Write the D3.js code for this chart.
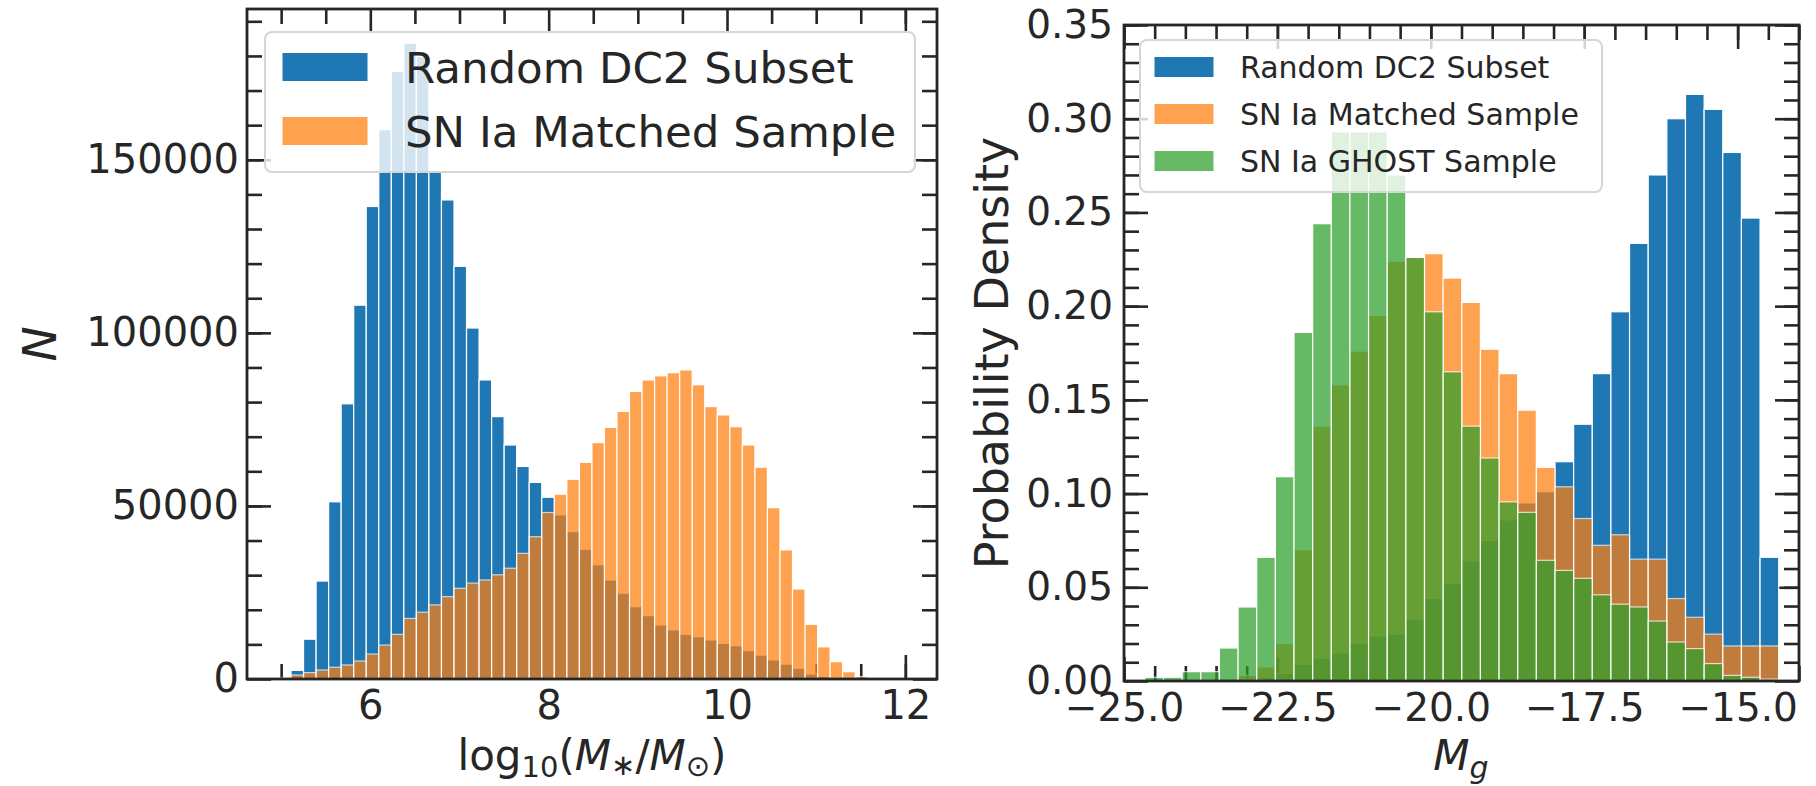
<!DOCTYPE html>
<html>
<head>
<meta charset="utf-8">
<script src="https://cdn.jsdelivr.net/npm/d3@7"></script>
<style>
  body { margin: 0; background: #fff; }
  text { font-family: "DejaVu Sans", sans-serif; fill: #262626; }
</style>
</head>
<body>
<svg id="fig" width="1816" height="786"></svg>
<script>
// ---- data: left panel, stellar mass histogram (counts per bin) ----
const massBinStart = 4.97;
const massBinWidth = 0.1406;
const massRandom = [
    0, 2500, 11500, 28300, 51200, 79500, 108000, 136500, 158700, 175500,
    183700, 179900, 146600, 138400, 119200, 101400, 86400, 75800, 67600, 61400,
    56800, 52500, 47400, 42600, 37500, 33000, 28600, 24800, 20900, 18300,
    15600, 14200, 12900, 12200, 11300, 10300, 9600, 8200, 6900, 5500,
    4300, 3100, 1450, 700, 300, 0, 0, 0, 0, 0
];
const massMatched = [
    300, 1150, 1850, 2600, 3400, 4050, 5200, 7200, 9800, 12900,
    17500, 19300, 21400, 23800, 26200, 27700, 28600, 30100, 32000, 36300,
    41100, 48100, 53400, 57700, 62600, 68300, 72700, 77300, 83100, 86400,
    87600, 88500, 89300, 85000, 78700, 76300, 72900, 67600, 61200, 49500,
    37300, 26000, 15800, 9300, 5000, 2100, 700, 450, 200, 0
];
const massTicks = [6, 8, 10, 12];
const massMinor = [5, 5.5, 6.5, 7, 7.5, 8.5, 9, 9.5, 10.5, 11, 11.5, 12];
const countTicks = [0, 50000, 100000, 150000];
const countMinor = d3.range(10000, 193000, 10000);

// ---- data: right panel, g-band absolute magnitude (density per bin) ----
const magBinStart = -24.66;
const magBinWidth = 0.3038;
const magRandom = [
    0, 0, 0, 0, 0, 0.001, 0.002, 0.004, 0.009, 0.012,
    0.015, 0.020, 0.024, 0.025, 0.033, 0.044, 0.052, 0.064, 0.075, 0.086,
    0.095, 0.101, 0.117, 0.137, 0.164, 0.197, 0.2335, 0.270, 0.300, 0.313,
    0.305, 0.282, 0.247, 0.066
];
const magMatched = [
    0, 0, 0, 0, 0.001, 0.003, 0.0075, 0.020, 0.070, 0.136,
    0.158, 0.176, 0.195, 0.224, 0.226, 0.228, 0.215, 0.202, 0.177, 0.164,
    0.1445, 0.114, 0.1036, 0.0867, 0.0724, 0.078, 0.065, 0.065, 0.044, 0.034,
    0.025, 0.0187, 0.0187, 0.0187
];
const magGhost = [
    0.002, 0.002, 0.005, 0.005, 0.0176, 0.0395, 0.066, 0.109, 0.186, 0.244,
    0.293, 0.293, 0.293, 0.270, 0.226, 0.197, 0.165, 0.136, 0.119, 0.0956,
    0.090, 0.0644, 0.059, 0.0548, 0.046, 0.041, 0.0395, 0.032, 0.0208, 0.0173,
    0.0093, 0.003, 0.002, 0.001
];
const magTicks = [-25, -22.5, -20, -17.5, -15];
const magMinor = d3.range(-25, -13.9, 0.5);
const densTicks = [0, 0.05, 0.10, 0.15, 0.20, 0.25, 0.30, 0.35];
const densMinor = d3.range(0.01, 0.351, 0.01);

const seriesNames = ['Random DC2 Subset', 'SN Ia Matched Sample', 'SN Ia GHOST Sample'];
const seriesColors = ['#1f77b4', '#ff7f0e', '#2ca02c'];
const seriesAlpha = [1, 0.72, 0.72];

const ink = '#262626';
const svg = d3.select('#fig');

function drawPanel(cfg) {
    const b = cfg.box;
    const x = d3.scaleLinear().domain(cfg.xDomain).range([b.left, b.right]);
    const y = d3.scaleLinear().domain(cfg.yDomain).range([b.bottom, b.top]);
    const g = svg.append('g');

    // Ticks (inward, on all four sides), drawn below the bars
    const tickStyle = sel => {
        sel.select('.domain').remove();
        sel.selectAll('line').attr('stroke', ink).attr('stroke-width', 2.6);
        sel.selectAll('text').style('font-size', cfg.tickFont + 'px').attr('fill', ink);
    };
    const major = 24, minor = 15;

    g.append('g').attr('transform', `translate(0,${b.bottom})`)
        .call(d3.axisBottom(x).tickValues(cfg.xMajor).tickSize(-major).tickPadding(cfg.xPad).tickFormat(cfg.xFormat))
        .call(tickStyle);
    g.append('g').attr('transform', `translate(0,${b.bottom})`)
        .call(d3.axisBottom(x).tickValues(cfg.xMinor).tickSize(-minor).tickFormat(''))
        .call(tickStyle);
    g.append('g').attr('transform', `translate(0,${b.top})`)
        .call(d3.axisTop(x).tickValues(cfg.xMajor).tickSize(-major).tickFormat(''))
        .call(tickStyle);
    g.append('g').attr('transform', `translate(0,${b.top})`)
        .call(d3.axisTop(x).tickValues(cfg.xMinor).tickSize(-minor).tickFormat(''))
        .call(tickStyle);
    g.append('g').attr('transform', `translate(${b.left},0)`)
        .call(d3.axisLeft(y).tickValues(cfg.yMajor).tickSize(-major).tickPadding(cfg.yPad).tickFormat(cfg.yFormat))
        .call(tickStyle);
    g.append('g').attr('transform', `translate(${b.left},0)`)
        .call(d3.axisLeft(y).tickValues(cfg.yMinor).tickSize(-minor).tickFormat(''))
        .call(tickStyle);
    g.append('g').attr('transform', `translate(${b.right},0)`)
        .call(d3.axisRight(y).tickValues(cfg.yMajor).tickSize(-major).tickFormat(''))
        .call(tickStyle);
    g.append('g').attr('transform', `translate(${b.right},0)`)
        .call(d3.axisRight(y).tickValues(cfg.yMinor).tickSize(-minor).tickFormat(''))
        .call(tickStyle);

    // Histogram bars
    cfg.series.forEach((values, s) => {
        g.append('g')
            .selectAll('rect')
            .data(values.map((v, i) => ({ v, i })).filter(d => d.v > 0))
            .enter()
            .append('rect')
            .attr('x', d => x(cfg.binStart + d.i * cfg.binWidth))
            .attr('width', d => x(cfg.binStart + (d.i + 1) * cfg.binWidth) - x(cfg.binStart + d.i * cfg.binWidth))
            .attr('y', d => y(d.v))
            .attr('height', d => y(0) - y(d.v))
            .attr('fill', seriesColors[s])
            .attr('stroke', '#ffffff')
            .attr('stroke-width', 1.2)
            .attr('opacity', seriesAlpha[s]);
    });

    // Spines
    g.append('rect')
        .attr('x', b.left).attr('y', b.top)
        .attr('width', b.right - b.left).attr('height', b.bottom - b.top)
        .attr('fill', 'none').attr('stroke', ink).attr('stroke-width', 2.8);

    // Legend
    const L = cfg.legend;
    g.append('rect')
        .attr('x', L.x).attr('y', L.y).attr('width', L.w).attr('height', L.h)
        .attr('rx', 7).attr('fill', '#ffffff').attr('fill-opacity', 0.8)
        .attr('stroke', '#d6d6d6').attr('stroke-width', 2);
    cfg.series.forEach((values, s) => {
        const cy = L.firstRow + s * L.rowGap;
        g.append('rect')
            .attr('x', L.handleX).attr('y', cy - L.handleH / 2)
            .attr('width', L.handleW).attr('height', L.handleH)
            .attr('fill', seriesColors[s]).attr('stroke', '#ffffff').attr('stroke-width', 1)
            .attr('opacity', seriesAlpha[s]);
        g.append('text')
            .attr('x', L.textX).attr('y', cy).attr('dy', '0.36em')
            .style('font-size', L.font + 'px')
            .text(seriesNames[s]);
    });

    return g;
}

// ---- left panel ----
const left = drawPanel({
    box: { left: 247, right: 937, top: 9, bottom: 679 },
    xDomain: [4.617, 12.355],
    yDomain: [0, 193560],
    xMajor: massTicks, xMinor: massMinor,
    yMajor: countTicks, yMinor: countMinor,
    xFormat: d3.format('d'), yFormat: d3.format('d'),
    xPad: 12, yPad: 8, tickFont: 40,
    binStart: massBinStart, binWidth: massBinWidth,
    series: [massRandom, massMatched],
    legend: { x: 265, y: 32, w: 650, h: 140, handleX: 282, handleW: 86, handleH: 29,
              textX: 405, firstRow: 67, rowGap: 64, font: 43.5 }
});

left.append('text')
    .attr('transform', 'translate(56,344) rotate(-90)')
    .attr('text-anchor', 'middle')
    .style('font-size', '47px').style('font-style', 'italic')
    .text('N');

const massLabel = left.append('text')
    .attr('x', 592).attr('y', 770)
    .attr('text-anchor', 'middle')
    .style('font-size', '42px');
massLabel.append('tspan').text('log');
massLabel.append('tspan').attr('dy', 7).style('font-size', '29px').text('10');
massLabel.append('tspan').attr('dy', -7).text('(');
massLabel.append('tspan').style('font-style', 'italic').text('M');
massLabel.append('tspan').attr('dy', 5).style('font-size', '29px').text('∗');
massLabel.append('tspan').attr('dy', -5).text('/');
massLabel.append('tspan').style('font-style', 'italic').text('M');
massLabel.append('tspan').attr('dy', 6).style('font-size', '29px').text('⊙');
massLabel.append('tspan').attr('dy', -6).text(')');

// ---- right panel ----
const right = drawPanel({
    box: { left: 1124, right: 1799, top: 25, bottom: 681 },
    xDomain: [-25, -14],
    yDomain: [0, 0.35],
    xMajor: magTicks, xMinor: magMinor,
    yMajor: densTicks, yMinor: densMinor,
    xFormat: d3.format('.1f'), yFormat: d3.format('.2f'),
    xPad: 12, yPad: 11, tickFont: 39,
    binStart: magBinStart, binWidth: magBinWidth,
    series: [magRandom, magMatched, magGhost],
    legend: { x: 1140, y: 40, w: 462, h: 152, handleX: 1154, handleW: 60, handleH: 21,
              textX: 1240, firstRow: 67, rowGap: 47, font: 30 }
});

right.append('text')
    .attr('transform', 'translate(1008,353) rotate(-90)')
    .attr('text-anchor', 'middle')
    .style('font-size', '46px')
    .text('Probability Density');

const magLabel = right.append('text')
    .attr('x', 1461).attr('y', 770)
    .attr('text-anchor', 'middle')
    .style('font-size', '42px').style('font-style', 'italic');
magLabel.append('tspan').text('M');
magLabel.append('tspan').attr('dy', 8).style('font-size', '30px').text('g');
</script>
</body>
</html>
